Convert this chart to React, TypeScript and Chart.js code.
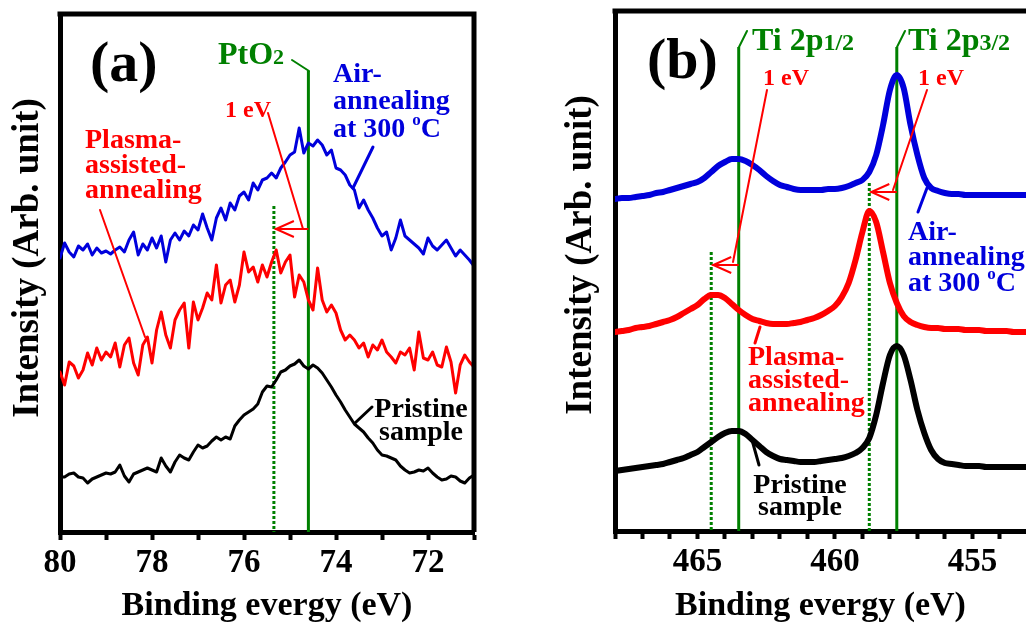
import React, { useEffect, useRef } from "react";
import { Chart, registerables } from "chart.js";

Chart.register(...registerables);

const FONT = '"Liberation Serif", "Times New Roman", serif';
const BLUE = "#0000dc";
const RED = "#ff0000";
const GREEN = "#008000";
const BLACK = "#000000";

// ---------- Panel (a): Pt 4f region ----------
const ENERGY_A = [
  80.0, 79.9, 79.8, 79.7, 79.6, 79.5, 79.4, 79.3, 79.2, 79.1,
  79.0, 78.9, 78.8, 78.7, 78.6, 78.5, 78.4, 78.3, 78.2, 78.1,
  78.0, 77.9, 77.8, 77.7, 77.6, 77.5, 77.4, 77.3, 77.2, 77.1,
  77.0, 76.9, 76.8, 76.7, 76.6, 76.5, 76.4, 76.3, 76.2, 76.1,
  76.0, 75.9, 75.8, 75.7, 75.6, 75.5, 75.4, 75.3, 75.2, 75.1,
  75.0, 74.9, 74.8, 74.7, 74.6, 74.5, 74.4, 74.3, 74.2, 74.1,
  74.0, 73.9, 73.8, 73.7, 73.6, 73.5, 73.4, 73.3, 73.2, 73.1,
  73.0, 72.9, 72.8, 72.7, 72.6, 72.5, 72.4, 72.3, 72.2, 72.1,
  72.0, 71.9, 71.8, 71.7, 71.6, 71.5, 71.4, 71.3, 71.2, 71.1,
  71.0,
];
const AIR_A = [
  274, 289, 280, 275, 286, 282, 288, 277, 284, 279,
  281, 278, 282, 285, 280, 292, 300, 277, 288, 282,
  294, 284, 296, 270, 292, 299, 292, 301, 296, 307,
  302, 318, 304, 292, 314, 324, 312, 329, 322, 336,
  340, 332, 349, 342, 352, 354, 359, 354, 364, 370,
  377, 380, 404, 379, 389, 386, 392, 387, 377, 382,
  364, 362, 357, 347, 342, 324, 332, 322, 314, 304,
  296, 300, 282, 294, 312, 296, 292, 288, 284, 278,
  294, 286, 282, 287, 292, 284, 276, 282, 277, 272,
  266,
];
const PLASMA_A = [
  160, 147, 170, 166, 154, 162, 179, 167, 184, 172,
  180, 175, 189, 165, 187, 194, 169, 157, 187, 195,
  169, 202, 220, 197, 184, 212, 222, 229, 184, 230,
  212, 224, 239, 232, 267, 229, 247, 252, 230, 247,
  280, 260, 265, 250, 267, 255, 270, 282, 259, 270,
  277, 235, 257, 250, 232, 222, 264, 232, 220, 227,
  219, 202, 192, 197, 192, 184, 189, 175, 187, 182,
  192, 180, 175, 169, 180, 177, 184, 162, 200, 174,
  172, 180, 167, 165, 185, 170, 139, 167, 177, 170,
  165,
];
const PRISTINE_A = [
  55, 55, 58, 59, 55, 54, 49, 53, 55, 57,
  59, 58, 60, 67, 56, 50, 58, 60, 62, 64,
  62, 60, 74, 66, 60, 70, 77, 74, 72, 80,
  87, 84, 86, 91, 95, 92, 95, 93, 106, 112,
  117, 120, 123, 128, 140, 146, 145, 152, 160, 162,
  166, 168, 172, 166, 163, 167, 164, 159, 152, 145,
  137, 130, 122, 115, 108, 104, 100, 94, 89, 82,
  77, 76, 74, 72, 66, 62, 59, 60, 62, 61,
  64, 59, 55, 52, 53, 56, 55, 51, 49, 54,
  57,
];
const TICKS_A = [80, 79, 78, 77, 76, 75, 74, 73, 72, 71];
const LABELED_A = [80, 78, 76, 74, 72];

// ---------- Panel (b): Ti 2p region ----------
const ENERGY_B = [
  468, 467.75, 467.5, 467.25, 467, 466.75, 466.5, 466.25, 466, 465.75,
  465.5, 465.25, 465, 464.75, 464.5, 464.25, 464, 463.75, 463.5, 463.25,
  463, 462.75, 462.5, 462.25, 462, 461.75, 461.5, 461.25, 461, 460.75,
  460.5, 460.25, 460, 459.75, 459.5, 459.25, 459, 458.75, 458.5, 458.25,
  458, 457.75, 457.5, 457.25, 457, 456.75, 456.5, 456.25, 456, 455.75,
  455.5, 455.25, 455, 454.75, 454.5, 454.25, 454, 453.75, 453.5, 453.25,
  453,
];
const AIR_B = [
  332, 333, 333, 334, 335, 336, 338, 339, 341, 343,
  345, 347, 349, 353, 359, 365, 369, 372, 372, 370,
  366, 361, 355, 350, 346, 344, 342, 341, 341, 341,
  341, 342, 342, 343, 345, 348, 351, 359, 376, 406,
  441, 456, 443, 406, 376, 353, 343, 340, 338, 337,
  337, 336, 336, 336, 336, 336, 336, 336, 336, 336,
  336,
];
const PLASMA_B = [
  199, 200, 201, 203, 204, 205, 207, 209, 211, 214,
  218, 222, 226, 232, 236, 236, 233, 227, 221, 216,
  212, 210, 208, 207, 207, 207, 208, 209, 211, 213,
  216, 220, 225, 234, 248, 271, 299, 320, 309, 279,
  248, 228, 215, 209, 206, 204, 203, 203, 202, 202,
  202, 201, 201, 201, 200, 200, 200, 200, 199, 199,
  199,
];
const PRISTINE_B = [
  60, 61, 62, 63, 64, 65, 66, 67, 69, 71,
  73, 76, 79, 84, 89, 94, 98, 100, 100, 97,
  91, 85, 79, 75, 72, 71, 70, 69, 69, 69,
  70, 71, 72, 73, 75, 78, 83, 93, 116, 148,
  176, 185, 176, 151, 121, 98, 81, 72, 68, 67,
  66, 65, 65, 65, 64, 64, 64, 64, 64, 64,
  64,
];
const TICKS_B = [468, 467, 466, 465, 464, 463, 462, 461, 460, 459, 458, 457, 456, 455, 454];
const LABELED_B = [465, 460, 455];

type Seg = { t: string; size: number; dy?: number };
type TextItem = { segs: Seg[]; x: number; y: number; color: string; align?: "left" | "center" };
type Leader = { pts: number[][]; color: string; width: number };
type RefLine = { e: number; top: number; dashed: boolean };
type Arrow = { from: number; to: number; v: number };

interface PanelSpec {
  left: number;
  width: number;
  energy: number[];
  series: { data: number[]; color: string }[];
  lineWidth: number;
  smooth: boolean;
  xMin: number;
  xMax: number;
  yMax: number;
  ticks: number[];
  labeled: number[];
  padding: { left: number; top: number; right: number; bottom: number };
  yWidth: number;
  xHeight: number;
  refs: RefLine[];
  arrows: Arrow[];
  texts: TextItem[];
  leaders: Leader[];
  yTitle: { x: number; y: number };
  rightBorder: boolean;
}

const line = (lines: string[], x: number, ys: number[], size: number, color: string, align: "left" | "center" = "left"): TextItem[] =>
  lines.map((t, i) => ({ segs: [{ t, size }], x, y: ys[i], color, align }));

const PANEL_A: PanelSpec = {
  left: 0,
  width: 540,
  energy: ENERGY_A,
  series: [
    { data: PRISTINE_A, color: BLACK },
    { data: PLASMA_A, color: RED },
    { data: AIR_A, color: BLUE },
  ],
  lineWidth: 3,
  smooth: false,
  xMin: 71,
  xMax: 80,
  yMax: 518,
  ticks: TICKS_A,
  labeled: LABELED_A,
  padding: { left: 0, top: 14, right: 66, bottom: 0 },
  yWidth: 60,
  xHeight: 91,
  refs: [
    { e: 74.6, top: 461, dashed: false },
    { e: 75.35, top: 326, dashed: true },
  ],
  arrows: [{ from: 74.6, to: 75.35, v: 303 }],
  texts: [
    { segs: [{ t: "(a)", size: 58 }], x: 90, y: 81, color: BLACK },
    { segs: [{ t: "PtO", size: 32 }, { t: "2", size: 22 }], x: 218, y: 64, color: GREEN },
    { segs: [{ t: "1 eV", size: 24 }], x: 225, y: 117, color: RED },
    ...line(["Air-", "annealing"], 333, [82, 109], 28, BLUE),
    { segs: [{ t: "at 300 ", size: 28 }, { t: "o", size: 17, dy: -12 }, { t: "C", size: 28 }], x: 333, y: 137, color: BLUE },
    ...line(["Plasma-", "assisted-", "annealing"], 85, [148, 173, 198], 28, RED),
    ...line(["Pristine", "sample"], 421, [417, 440], 28, BLACK, "center"),
  ],
  leaders: [
    { pts: [[292, 60], [309, 71]], color: GREEN, width: 2 },
    { pts: [[268, 113], [303, 229]], color: RED, width: 2 },
    { pts: [[373, 147], [353, 188]], color: BLUE, width: 3 },
    { pts: [[100, 210], [145, 337]], color: RED, width: 2 },
    { pts: [[372, 407], [355, 423]], color: BLACK, width: 3 },
  ],
  yTitle: { x: 28, y: 258 },
  rightBorder: true,
};

const OB = 540; // page offset of panel (b) canvas
const PANEL_B: PanelSpec = {
  left: OB,
  width: 486,
  energy: ENERGY_B,
  series: [
    { data: PRISTINE_B, color: BLACK },
    { data: PLASMA_B, color: RED },
    { data: AIR_B, color: BLUE },
  ],
  lineWidth: 6,
  smooth: true,
  xMin: 453.05,
  xMax: 468,
  yMax: 520,
  ticks: TICKS_B,
  labeled: LABELED_B,
  padding: { left: 0, top: 11, right: 0, bottom: 0 },
  yWidth: 75,
  xHeight: 92,
  refs: [
    { e: 463.5, top: 484, dashed: false },
    { e: 457.75, top: 484, dashed: false },
    { e: 464.5, top: 279, dashed: true },
    { e: 458.75, top: 348, dashed: true },
  ],
  arrows: [
    { from: 463.5, to: 464.5, v: 266 },
    { from: 457.75, to: 458.75, v: 339 },
  ],
  texts: [
    { segs: [{ t: "(b)", size: 58 }], x: 647 - OB, y: 78, color: BLACK },
    { segs: [{ t: "Ti 2p", size: 32 }, { t: "1/2", size: 24 }], x: 752 - OB, y: 50, color: GREEN },
    { segs: [{ t: "Ti 2p", size: 32 }, { t: "3/2", size: 24 }], x: 908 - OB, y: 50, color: GREEN },
    { segs: [{ t: "1 eV", size: 24 }], x: 763 - OB, y: 85, color: RED },
    { segs: [{ t: "1 eV", size: 24 }], x: 918 - OB, y: 85, color: RED },
    ...line(["Air-", "annealing"], 908 - OB, [240, 265], 28, BLUE),
    { segs: [{ t: "at 300 ", size: 28 }, { t: "o", size: 17, dy: -12 }, { t: "C", size: 28 }], x: 908 - OB, y: 291, color: BLUE },
    ...line(["Plasma-", "assisted-", "annealing"], 748 - OB, [365, 388, 411], 28, RED),
    ...line(["Pristine", "sample"], 800 - OB, [493, 515], 28, BLACK, "center"),
  ],
  leaders: [
    { pts: [[739 - OB, 47], [747 - OB, 31]], color: GREEN, width: 2 },
    { pts: [[897 - OB, 47], [905 - OB, 31]], color: GREEN, width: 2 },
    { pts: [[767 - OB, 90], [733 - OB, 262]], color: RED, width: 2 },
    { pts: [[927 - OB, 90], [893 - OB, 190]], color: RED, width: 2 },
    { pts: [[927 - OB, 188], [918 - OB, 212]], color: BLUE, width: 3 },
    { pts: [[760 - OB, 327], [755 - OB, 343]], color: RED, width: 3 },
    { pts: [[752 - OB, 440], [759 - OB, 465]], color: BLACK, width: 3 },
  ],
  yTitle: { x: 581 - OB, y: 255 },
  rightBorder: false,
};

function segFont(size: number) {
  return `bold ${size}px ${FONT}`;
}

function drawRich(ctx: CanvasRenderingContext2D, item: TextItem) {
  let total = 0;
  for (const s of item.segs) {
    ctx.font = segFont(s.size);
    total += ctx.measureText(s.t).width;
  }
  let cx = item.align === "center" ? item.x - total / 2 : item.x;
  ctx.fillStyle = item.color;
  ctx.textBaseline = "alphabetic";
  ctx.textAlign = "left";
  for (const s of item.segs) {
    ctx.font = segFont(s.size);
    ctx.fillText(s.t, cx, item.y + (s.dy || 0));
    cx += ctx.measureText(s.t).width;
  }
}

function makePlugin(spec: PanelSpec) {
  return {
    id: "xpsAnnotations",
    beforeDatasetsDraw(chart: any) {
      const { ctx } = chart;
      const xs = chart.scales.x;
      const ys = chart.scales.y;
      ctx.save();
      ctx.strokeStyle = GREEN;
      ctx.lineWidth = 3;
      for (const r of spec.refs) {
        ctx.setLineDash(r.dashed ? [3, 2] : []);
        const px = xs.getPixelForValue(r.e);
        ctx.beginPath();
        ctx.moveTo(px, ys.getPixelForValue(r.top));
        ctx.lineTo(px, ys.getPixelForValue(0));
        ctx.stroke();
      }
      ctx.restore();
    },
    afterDatasetsDraw(chart: any) {
      const { ctx, chartArea } = chart;
      const xs = chart.scales.x;
      const ys = chart.scales.y;
      ctx.save();
      ctx.strokeStyle = BLACK;
      ctx.lineWidth = 5;
      ctx.setLineDash([]);
      ctx.beginPath();
      ctx.moveTo(chartArea.left - 2.5, chartArea.top);
      ctx.lineTo(chartArea.right + (spec.rightBorder ? 2.5 : 0), chartArea.top);
      if (spec.rightBorder) {
        ctx.moveTo(chartArea.right, chartArea.top);
        ctx.lineTo(chartArea.right, chartArea.bottom);
      }
      ctx.stroke();

      ctx.strokeStyle = RED;
      ctx.lineWidth = 2;
      for (const a of spec.arrows) {
        const x1 = xs.getPixelForValue(a.from);
        const x2 = xs.getPixelForValue(a.to);
        const py = ys.getPixelForValue(a.v);
        const dir = Math.sign(x1 - x2);
        ctx.beginPath();
        ctx.moveTo(x1, py);
        ctx.lineTo(x2 + dir, py);
        ctx.moveTo(x2 + dir * 20, py - 8);
        ctx.lineTo(x2 + dir * 2, py);
        ctx.lineTo(x2 + dir * 20, py + 8);
        ctx.stroke();
      }

      ctx.lineCap = "round";
      for (const l of spec.leaders) {
        ctx.strokeStyle = l.color;
        ctx.lineWidth = l.width;
        ctx.beginPath();
        l.pts.forEach((p, i) => (i === 0 ? ctx.moveTo(p[0], p[1]) : ctx.lineTo(p[0], p[1])));
        ctx.stroke();
      }

      for (const t of spec.texts) drawRich(ctx, t);

      ctx.translate(spec.yTitle.x, spec.yTitle.y);
      ctx.rotate(-Math.PI / 2);
      ctx.font = segFont(37);
      ctx.fillStyle = BLACK;
      ctx.textAlign = "center";
      ctx.textBaseline = "middle";
      ctx.fillText("Intensity (Arb. unit)", 0, 0);
      ctx.restore();
    },
  };
}

function Panel({ spec }: { spec: PanelSpec }) {
  const ref = useRef<HTMLCanvasElement | null>(null);
  useEffect(() => {
    const canvas = ref.current;
    if (!canvas) return;
    const chart = new Chart(canvas, {
      type: "line",
      data: {
        datasets: spec.series.map((s) => ({
          data: spec.energy.map((e, i) => ({ x: e, y: s.data[i] })),
          borderColor: s.color,
          borderWidth: spec.lineWidth,
          pointRadius: 0,
          fill: false,
          tension: 0,
          cubicInterpolationMode: spec.smooth ? "monotone" : "default",
          borderJoinStyle: "round",
          borderCapStyle: "round",
        })),
      },
      options: {
        responsive: false,
        animation: false,
        devicePixelRatio: 1,
        events: [],
        layout: { padding: spec.padding },
        plugins: { legend: { display: false }, tooltip: { enabled: false }, title: { display: false } },
        scales: {
          x: {
            type: "linear",
            reverse: true,
            min: spec.xMin,
            max: spec.xMax,
            afterBuildTicks: (scale: any) => {
              scale.ticks = spec.ticks.map((v) => ({ value: v }));
            },
            afterFit: (scale: any) => {
              scale.height = spec.xHeight;
            },
            ticks: {
              autoSkip: false,
              maxRotation: 0,
              minRotation: 0,
              padding: 4,
              color: BLACK,
              font: { family: FONT, size: 33, weight: "bold" },
              callback: (v: any) => (spec.labeled.includes(Number(v)) ? String(v) : ""),
            },
            grid: { display: true, drawOnChartArea: false, drawTicks: true, tickLength: 8, tickWidth: 4, tickColor: BLACK, color: BLACK },
            border: { display: true, width: 5, color: BLACK },
            title: {
              display: true,
              text: "Binding evergy (eV)",
              color: BLACK,
              font: { family: FONT, size: 34, weight: "bold", lineHeight: 1 },
              padding: { top: 0, bottom: 0 },
            },
          },
          y: {
            type: "linear",
            min: 0,
            max: spec.yMax,
            afterFit: (scale: any) => {
              scale.width = spec.yWidth;
            },
            ticks: { display: false },
            grid: { display: true, drawOnChartArea: false, drawTicks: false },
            border: { display: true, width: 5, color: BLACK },
          },
        },
      } as any,
      plugins: [makePlugin(spec)],
    });
    return () => chart.destroy();
  }, [spec]);
  return (
    <canvas
      ref={ref}
      width={spec.width}
      height={623}
      style={{ position: "absolute", left: spec.left, top: 0, width: spec.width, height: 623 }}
    />
  );
}

export default function App() {
  return (
    <div
      style={{
        position: "fixed",
        left: 0,
        top: 0,
        width: 1026,
        height: 623,
        overflow: "hidden",
        background: "#ffffff",
      }}
    >
      <Panel spec={PANEL_A} />
      <Panel spec={PANEL_B} />
    </div>
  );
}
